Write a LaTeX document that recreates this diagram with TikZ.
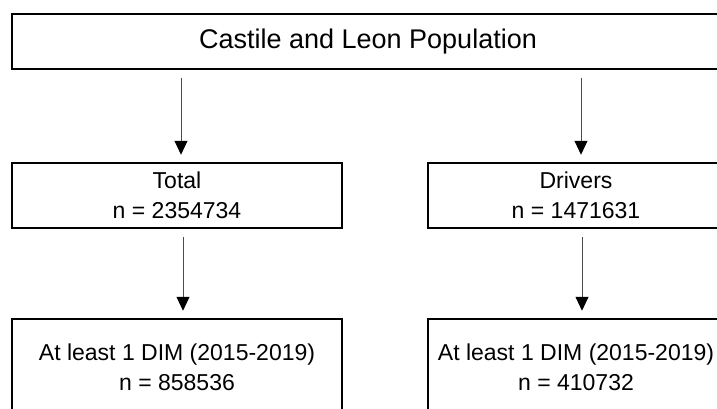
\documentclass[tikz,border=0pt]{standalone}
\usepackage{fontspec}
\setmainfont{Liberation Sans}
\usetikzlibrary{arrows.meta}
\usetikzlibrary{positioning}
\tikzstyle{every node}+=[inner sep=0pt]
\tikzstyle{block} = [rectangle, draw, line width=1.5pt, text centered, align=center, font=\fontsize{23}{30}\selectfont, minimum width=330pt, minimum height=65pt]
\tikzstyle{line} = [draw, line width=0.9pt, black!70, shorten <=8pt, shorten >=7.5pt, -{Triangle[width=13pt,length=14pt,color=black]}]

\begin{document}
\begin{tikzpicture}[x=1pt, y=-1pt, node distance=154pt]
            \useasboundingbox (0,0) rectangle (717,408);
            \clip (0,0) rectangle (717,408);
            % Place nodes
            \node [block, minimum width=712pt, minimum height=55pt, font=\fontsize{27}{32}\selectfont] (pop) at (368,41.5) {Castile and Leon Population};
            \node [block, below of=pop, xshift=-191pt] (total) {Total\\n = 2354734};
            \node [block, right of=total, node distance=399pt, minimum width=296pt] (drivers) {Drivers\\n = 1471631};
            \node [block, below of=total, node distance=171.5pt, minimum height=96pt] (dimall) {At least 1 DIM (2015-2019)\\n = 858536};
            \node [block, right of=dimall, node distance=399pt, minimum width=296pt, minimum height=96pt] (dimdrv) {At least 1 DIM (2015-2019)\\n = 410732};
            % Draw edges
            \path [line] ([xshift=4pt]total.north |- pop.south) -- ([xshift=4pt]total.north);
            \path [line] ([xshift=5pt]drivers.north |- pop.south) -- ([xshift=5pt]drivers.north);
            \path [line] ([xshift=6pt]total.south) -- ([xshift=6pt]dimall.north);
            \path [line] ([xshift=6pt]drivers.south) -- ([xshift=6pt]dimdrv.north);
\end{tikzpicture}
\end{document}
